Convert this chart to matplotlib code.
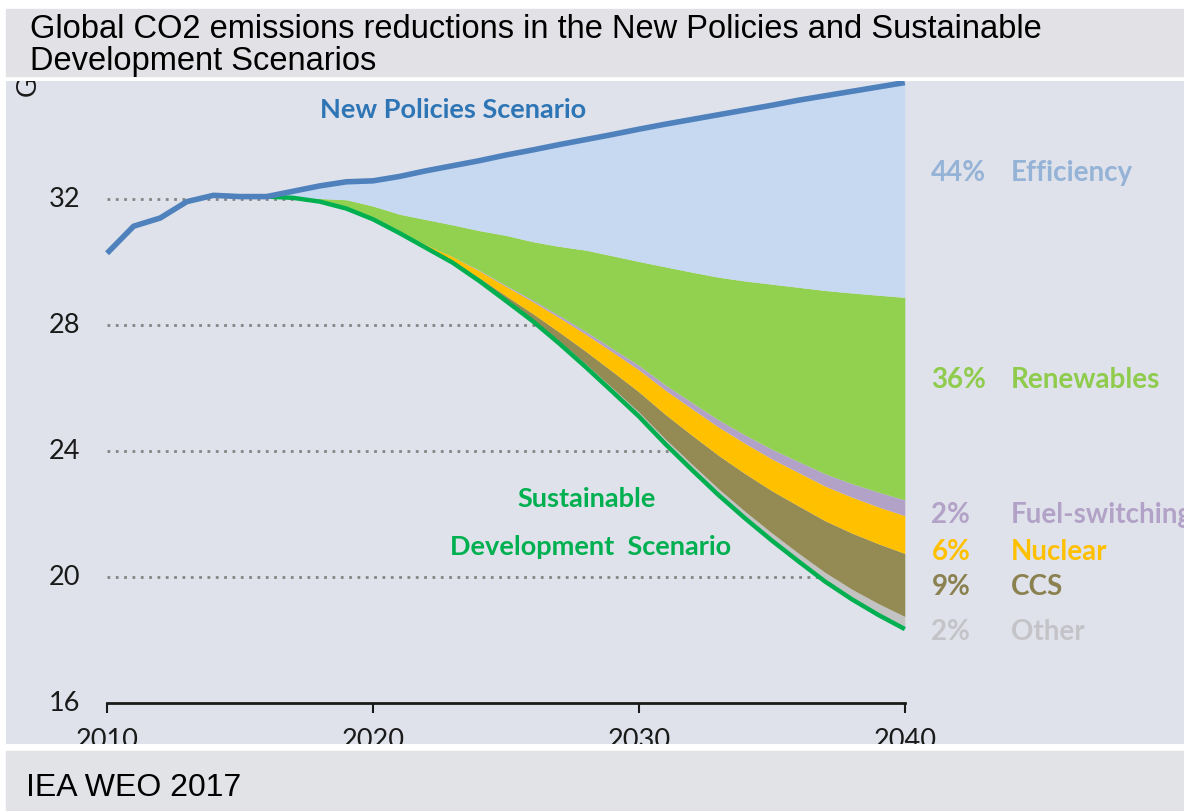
import numpy as np
import matplotlib
matplotlib.use("Agg")
import matplotlib.pyplot as plt
from matplotlib.patches import Rectangle

# emissions in Gt CO2
years = np.arange(2010, 2041)
nps = [30.28, 31.14, 31.40, 31.92, 32.12, 32.08, 32.08, 32.25, 32.42, 32.55,
       32.58, 32.72, 32.90, 33.06, 33.22, 33.40, 33.56, 33.73, 33.89, 34.05,
       34.22, 34.38, 34.53, 34.68, 34.83, 34.98, 35.14, 35.28, 35.42, 35.56, 35.70]

sds_years = np.arange(2016, 2041)
sds = [32.08, 32.04, 31.92, 31.70, 31.36, 30.92, 30.45, 29.98, 29.40, 28.77,
       28.13, 27.42, 26.67, 25.89, 25.10, 24.22, 23.40, 22.60, 21.86, 21.16,
       20.50, 19.86, 19.30, 18.80, 18.35]

# reductions by measure, stacked up from the SDS line
other = [0, 0, 0, 0, 0, 0, 0, 0, 0.02, 0.04, 0.06, 0.08, 0.10, 0.12, 0.14,
         0.16, 0.18, 0.20, 0.22, 0.24, 0.26, 0.29, 0.32, 0.36, 0.40]
ccs = [0, 0, 0, 0, 0, 0, 0.02, 0.05, 0.08, 0.12, 0.18, 0.28, 0.40, 0.52, 0.64,
       0.78, 0.92, 1.06, 1.20, 1.34, 1.50, 1.64, 1.78, 1.90, 2.00]
nuclear = [0, 0, 0, 0, 0, 0.03, 0.08, 0.14, 0.22, 0.30, 0.38, 0.46, 0.54, 0.62,
           0.70, 0.77, 0.84, 0.90, 0.96, 1.01, 1.06, 1.10, 1.14, 1.17, 1.20]
fuel_switch = [0, 0, 0, 0, 0, 0, 0, 0, 0.02, 0.03, 0.05, 0.07, 0.09, 0.11,
               0.14, 0.17, 0.20, 0.23, 0.27, 0.31, 0.35, 0.39, 0.43, 0.47, 0.50]
renewables = [0, 0.01, 0.10, 0.28, 0.42, 0.57, 0.80, 1.01, 1.26, 1.59, 1.85,
              2.19, 2.58, 2.94, 3.30, 3.75, 4.14, 4.53, 4.89, 5.24, 5.53, 5.82,
              6.05, 6.25, 6.43]

measures = ["Other", "CCS", "Nuclear", "Fuel-switching", "Renewables", "Efficiency"]
shares = ["2%", "9%", "6%", "2%", "36%", "44%"]
fill_colors = ["#c3c3c3", "#948a54", "#ffc000", "#b3a2c7", "#92d050", "#c6d9f1"]
text_colors = ["#c4c4c8", "#8b8150", "#ffc000", "#b3a2c7", "#8fcb4c", "#95b3d7"]
label_y = [18.0, 19.43, 20.54, 21.71, 26.0, 32.57]

yticks = [16, 20, 24, 28, 32, 36]
xticks = [2010, 2020, 2030, 2040]
grid_levels = [20, 24, 28, 32]

body = "Lato"

fig = plt.figure(figsize=(11.84, 8.11), dpi=100)
W, H = 1184, 811

# title and footer bands
fig.add_artist(Rectangle((6 / W, 1 - 76 / H), 1, 67 / H, transform=fig.transFigure,
                         color="#e2e2e6", zorder=0))
fig.add_artist(Rectangle((6 / W, 0), 1, 60 / H, transform=fig.transFigure,
                         color="#e2e3e7", zorder=0))
fig.text(30 / W, 1 - 14 / H,
         "Global CO2 emissions reductions in the New Policies and Sustainable\nDevelopment Scenarios",
         family="Liberation Sans", fontsize=23.5, va="top", ha="left", linespacing=1.05)
fig.text(26 / W, 1 - 796 / H, "IEA WEO 2017", family="Liberation Sans",
         fontsize=23, va="baseline", ha="left")

ax = fig.add_axes([6 / W, 1 - 744 / H, 1 - 6 / W, (744 - 81) / H])
ax.set_facecolor("#dfe2ea")
for s in ax.spines.values():
    s.set_visible(False)
ax.set_xticks([])
ax.set_yticks([])
ax.set_xlim(2006.2, 2050.5)
ax.set_ylim(14.7, 35.75)

sds_arr = np.array(sds)
nps_arr = np.array(nps)

# dotted gridlines stop where the SDS line crosses them
for lev in grid_levels:
    x_end = np.interp(lev, sds_arr[::-1], sds_years[::-1])
    ax.plot([2010, x_end], [lev, lev], color="#858585", lw=2.0,
            linestyle=(0, (1, 2)), zorder=1)

# stacked wedges
layers = [other, ccs, nuclear, fuel_switch, renewables]
lower = sds_arr.copy()
for vals, col in zip(layers, fill_colors[:5]):
    upper = lower + np.array(vals)
    ax.fill_between(sds_years, lower, upper, color=col, lw=0, zorder=2)
    lower = upper
ax.fill_between(sds_years, lower, nps_arr[years >= 2016], color=fill_colors[5],
                lw=0, zorder=2)

ax.plot(sds_years, sds, color="#00b050", lw=3.2, zorder=3, solid_capstyle="butt")
ax.plot(years, nps, color="#4f81bd", lw=4.0, zorder=4, solid_capstyle="butt")

# axis bracket
ax.plot([xticks[0], xticks[-1]], [16, 16], color="#1a1a1a", lw=2.0, zorder=5)
ax.vlines(xticks, 15.68, 16, color="#1a1a1a", lw=1.5, zorder=5)
for x in xticks:
    ax.text(x, 15.22, str(x), family=body, fontsize=19.5, ha="center", va="top",
            color="#1a1a1a", clip_on=True)
for y in yticks:
    ax.text(2009.0, y, str(y), family=body, fontsize=19.5, ha="right",
            va="center", color="#1a1a1a", clip_on=True)
ax.text(2007.03, 35.73, "Gt", family=body, fontsize=19.5, rotation=90,
        ha="center", va="center", color="#1a1a1a", clip_on=True)

# scenario labels
ax.text(2023.0, 34.57, "New Policies Scenario", family=body, fontsize=19.5,
        fontweight="bold", color="#2e75b6", ha="center", va="baseline")
ax.text(2028.05, 22.22, "Sustainable", family=body, fontsize=19.5,
        fontweight="bold", color="#00b050", ha="center", va="baseline")
ax.text(2028.2, 20.70, "Development  Scenario", family=body, fontsize=19.5,
        fontweight="bold", color="#00b050", ha="center", va="baseline")

# shares of cumulative reductions
for name, pct, col, y in zip(measures, shares, text_colors, label_y):
    ax.text(2041.0, y, pct, family=body, fontsize=20, fontweight="bold",
            color=col, ha="left", va="baseline", clip_on=True)
    ax.text(2044.0, y, name, family=body, fontsize=20, fontweight="bold",
            color=col, ha="left", va="baseline", clip_on=True)

fig.savefig("out.png", dpi=100, facecolor="white")
